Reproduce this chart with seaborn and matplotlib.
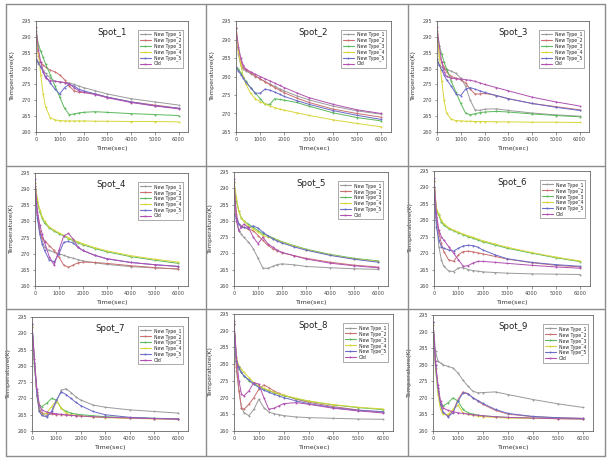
import matplotlib
matplotlib.use("Agg")
import matplotlib.pyplot as plt
import seaborn as sns
import pandas as pd
from matplotlib.lines import Line2D

sns.set_style("white")
plt.rcParams['font.family'] = ['DejaVu Sans']

time_sec = [0, 100, 200, 300, 400, 600, 800, 1000, 1200, 1400, 1600, 1800, 2000, 2500, 3000, 4000, 5000, 6000]
series_names = ["New Type_1", "New Type_2", "New Type_3", "New Type_4", "New Type_5", "Old"]
series_colors = ["#9a9a9a", "#c87070", "#5cb85c", "#d6d63a", "#6a6ac8", "#b050b0"]
spot_titles = ["Spot_1", "Spot_2", "Spot_3", "Spot_4", "Spot_5", "Spot_6", "Spot_7", "Spot_8", "Spot_9"]
x_ticks = [0, 1000, 2000, 3000, 4000, 5000, 6000]

spot1 = [
    [283, 281.5, 280.5, 279.5, 278.5, 277, 276, 275.8, 275.6, 275.5, 275, 274.5, 274, 273, 272, 270.5, 269.5, 268.5],
    [290, 284, 282, 281, 280.5, 279.5, 279, 278, 276.5, 274.5, 273, 272.5, 272.5, 272, 271, 269.5, 268.5, 267.5],
    [292, 287.5, 285.5, 283.5, 281.5, 278, 274.5, 271, 267.5, 265.5, 265.7, 266, 266.2, 266.4, 266.2, 265.8, 265.5, 265.2],
    [291, 285, 278, 272, 268, 264.5, 263.8, 263.6, 263.5, 263.5, 263.5, 263.5, 263.5, 263.4, 263.4, 263.3, 263.3, 263.2],
    [283, 282, 280.5, 279, 277.5, 275.5, 273.5, 272, 274, 275, 274.5, 273.5, 273, 272, 271, 269.5, 268.3, 267.5],
    [293, 286, 282, 279, 277, 276.2, 276, 275.8, 275.6, 275.2, 274, 273, 272.5, 271.8, 270.8, 269.3, 268.2, 267.3],
]
spot2 = [
    [293, 286, 283, 282, 281.5, 280.8, 280, 279.3, 278.6, 278, 277.3, 276.7, 276.1, 274.8, 273.7, 272, 270.7, 269.8],
    [293, 287.5, 284, 282.5, 281.8, 281, 280.2, 279.4, 278.6, 277.8, 277, 276.3, 275.6, 274.2, 273, 271.2, 270, 269],
    [282.5, 282, 281, 279.8, 278.8, 277, 275.5, 274, 272.5, 272.5, 274, 273.8, 273.6, 273, 272, 270.2, 268.9, 268],
    [292, 287, 283, 280, 278, 275.5, 274, 273.2, 272.6, 272, 271.6, 271.2, 270.9, 270.2, 269.5, 268.3, 267.3, 266.4],
    [282.5, 281.5, 280.5, 279.5, 278.5, 277, 275.5, 275.5, 276.6, 276.3, 275.8, 275.2, 274.6, 273.5, 272.5, 270.8, 269.5, 268.4],
    [293, 288, 285, 283, 282, 281.3, 280.6, 280, 279.4, 278.8, 278.2, 277.6, 277, 275.6, 274.3, 272.5, 271, 270],
]
spot3 = [
    [283, 281, 280.5, 280, 279.7, 279.2, 278.5, 277, 274.5, 270, 267, 266.8, 267.2, 267.3, 266.8, 266, 265.4, 265],
    [291, 284, 282, 280.5, 279, 277.5, 277, 276.5, 275.5, 273.5, 272, 272, 272.2, 271.5, 270.5, 269, 268, 267],
    [292, 287, 284.5, 282, 280, 276, 272.5, 269, 266, 265.4, 265.8, 266.1, 266.3, 266.5, 266.3, 265.7, 265.2, 264.8],
    [291, 284, 276, 270, 266, 264, 263.6, 263.5, 263.4, 263.4, 263.3, 263.3, 263.3, 263.2, 263.2, 263.1, 263.1, 263],
    [283, 281, 279.5, 278, 276.5, 274.5, 272, 271.5, 273.5, 274, 273.5, 273, 272.5, 271.5, 270.5, 269, 267.8, 266.8],
    [293, 287, 282, 279, 277.5, 277, 276.8, 276.7, 276.5, 276.3, 276, 275.5, 275, 274, 273, 271, 269.5, 268.2],
]
spot4 = [
    [291, 282, 277, 274, 272, 271, 270.5, 270, 269.5, 269, 268.6, 268.2, 267.8, 267.2, 266.7, 266, 265.6, 265.3],
    [291, 282, 277, 275, 274, 272.5, 271, 269, 266.5, 265.8, 266.5, 267.2, 267.4, 267.3, 267, 266.3, 265.7, 265.2],
    [292, 286, 283, 281, 279.5, 278, 277, 276.2, 275.5, 274.7, 274, 273.4, 272.8, 271.6, 270.6, 269.1, 268, 267],
    [292, 287, 283.5, 281.5, 280, 278.3, 277.3, 276.5, 275.7, 275, 274.3, 273.7, 273.1, 271.9, 270.9, 269.4, 268.3, 267.4],
    [290, 281, 276, 273, 271, 268, 267.5, 270, 273.5, 273.8, 273.3, 272, 271, 269.5, 268.4, 267.3, 266.6, 266.1],
    [293, 283, 279, 276, 273.5, 269, 266.5, 271, 275.5, 276.3, 274.5, 272, 271, 269.5, 268.5, 267.3, 266.6, 266],
]
spot5 = [
    [290, 281, 277, 276, 275, 273.5, 271.5, 268.5, 265.5, 265.4, 266, 266.6, 266.8, 266.5, 266, 265.6, 265.3, 265.1],
    [292, 282, 279, 278.5, 278, 277.5, 277, 275.5, 274, 272.5, 271.5, 270.8, 270.2, 269.3, 268.5, 267.3, 266.4, 265.8],
    [292, 286, 283, 281, 280, 279, 278, 277, 276, 275.5, 274.8, 274.2, 273.6, 272.4, 271.3, 269.7, 268.5, 267.7],
    [292, 287, 283, 281, 280, 278.5, 277.5, 276.5, 275.5, 275, 274.5, 274, 273.4, 272.2, 271.1, 269.5, 268.3, 267.5],
    [282, 281, 279, 278, 278, 277.8, 278.5, 277.8, 276.5, 275.5, 274.5, 273.8, 273.2, 272, 271, 269.4, 268.2, 267.3],
    [293, 280, 277, 278, 279, 278, 275, 273, 275, 273, 272, 271, 270.3, 269.3, 268.3, 267, 266.2, 265.6],
]
spot6 = [
    [290, 280, 272, 268, 266, 264.6, 264.4, 265.5, 265.6, 265, 264.7, 264.5, 264.3, 264.1, 263.9, 263.7, 263.6, 263.5],
    [292, 281, 276, 273, 270.5, 268, 267.5, 269.5, 270.5, 270.6, 270.4, 270.1, 269.8, 269, 268.2, 267.1, 266.3, 265.8],
    [292, 283, 281.5, 279.5, 278.5, 277.5, 276.8, 276.2, 275.6, 275, 274.5, 274, 273.5, 272.5, 271.5, 270, 268.6, 267.4],
    [292, 283.5, 282, 280, 279, 277.8, 277, 276.4, 275.8, 275.3, 274.8, 274.3, 273.8, 272.8, 271.8, 270.2, 268.8, 267.6],
    [290, 278, 274, 272, 271.5, 271, 270.6, 271.5, 272.2, 272.4, 272.3, 271.8, 271, 269.5, 268.3, 267.2, 266.5, 266],
    [293, 282, 277, 275, 274, 272, 270, 268, 266, 266.2, 267, 267.5, 267.5, 267.2, 266.9, 266.3, 265.8, 265.4],
]
spot7 = [
    [293, 282, 272, 267, 265.5, 264.6, 265.5, 269, 272.5, 273, 271.8, 270.5, 269.5, 268, 267.3, 266.5, 266, 265.5],
    [292, 281, 271, 266.5, 265.5, 265.3, 265.2, 265, 265, 264.9, 264.8, 264.7, 264.6, 264.4, 264.2, 264, 263.8, 263.7],
    [292, 280, 272, 268, 267.5, 268.5, 270, 269.5, 267, 266, 265.5, 265.2, 265, 264.7, 264.4, 264.1, 263.9, 263.7],
    [292, 281, 271, 266, 265, 265.5, 267.5, 269.3, 267, 265.5, 265, 264.8, 264.6, 264.3, 264.1, 263.9, 263.7, 263.6],
    [293, 281, 271, 266, 264.8, 264.3, 266, 269.5, 272, 271.2, 270, 268.8, 267.8, 266, 265, 264.2, 263.9, 263.7],
    [293, 282, 273, 268, 266.5, 265.8, 265.5, 265.3, 265.1, 265, 264.8, 264.7, 264.6, 264.4, 264.2, 264, 263.8, 263.6],
]
spot8 = [
    [292, 278, 272, 267, 265.5, 264.6, 266.5, 269.5, 267, 265.7, 265.2, 264.9, 264.6, 264.2, 264, 263.8, 263.6, 263.5],
    [292, 279, 272, 267, 266.5, 268, 270, 272.5, 273.8, 273, 272, 271.3, 270.7, 269.5, 268.6, 267.3, 266.3, 265.6],
    [292, 281, 278.5, 277.5, 276.5, 275, 274, 273.3, 272.6, 272, 271.5, 271, 270.6, 269.7, 268.9, 267.8, 267, 266.4],
    [292, 282, 279.5, 278.5, 277.5, 276, 274.5, 273.5, 272.8, 272.2, 271.6, 271.1, 270.7, 269.8, 269, 267.9, 267.1, 266.6],
    [292, 281, 279, 277.5, 276.5, 275.3, 274.1, 273, 272.2, 271.6, 271, 270.5, 270, 269, 268.2, 267, 266.2, 265.8],
    [293, 282, 275, 271, 270.5, 272, 274.5, 274, 270, 266.5, 266.8, 267.5, 268.2, 268.5, 268, 266.8, 266, 265.4],
]
spot9 = [
    [293, 284, 281, 280.5, 280, 279.5, 279, 277.5, 275.3, 273.5, 272, 271.5, 271.6, 271.8, 271, 269.5, 268.2, 267.1],
    [293, 280, 273, 268, 265.5, 264.5, 266, 269.5, 271.8, 271.3, 270, 269, 268, 266.2, 265.1, 264.3, 264, 263.8],
    [292, 279, 272, 268, 267.5, 268.5, 270, 269, 266.5, 265.5, 265.1, 264.8, 264.6, 264.3, 264.1, 263.9, 263.8, 263.7],
    [292, 279, 271, 266.5, 265, 265, 266.5, 267.8, 265.5, 265, 264.7, 264.5, 264.3, 264.1, 263.9, 263.8, 263.7, 263.6],
    [293, 280, 273, 268, 265.8, 264.3, 265.5, 269, 271.5, 271.2, 270, 269.2, 268.3, 266.5, 265.3, 264.4, 264, 263.8],
    [293, 281, 274, 269, 267, 266.2, 265.8, 265.5, 265.3, 265.1, 264.9, 264.7, 264.6, 264.3, 264.1, 263.9, 263.7, 263.6],
]
spot_data = [spot1, spot2, spot3, spot4, spot5, spot6, spot7, spot8, spot9]
y_ranges = [(260, 295), (265, 295), (260, 295), (260, 295), (260, 295),
            (260, 295), (260, 295), (260, 295), (260, 295)]

W, H = 615, 465
fig = plt.figure(figsize=(W / 100, H / 100), dpi=100)
fig.patch.set_facecolor("white")

# axes boxes in pixels: (left, top, right, bottom)
boxes = [
    (36, 21, 188, 132), (236, 21, 391, 132), (437, 21, 589, 132),
    (35, 173, 188, 286), (234, 172, 388, 286), (434, 171, 590, 286),
    (32, 317, 188, 431), (234, 314, 393, 431), (433, 315, 593, 431),
]

for i, (l, t, r, b) in enumerate(boxes):
    ax = fig.add_axes([l / W, 1 - b / H, (r - l) / W, (b - t) / H])
    ax.set_facecolor("white")
    for name, col, vals in zip(series_names, series_colors, spot_data[i]):
        df = pd.DataFrame({"Time": time_sec, "Temp": vals})
        sns.lineplot(data=df, x="Time", y="Temp", ax=ax, color=col, linewidth=0.7,
                     marker="o", markersize=1.4, markeredgewidth=0, legend=False)
    y0, y1 = y_ranges[i]
    ax.set_xlim(0, 6400)
    ax.set_ylim(y0, y1)
    ax.set_xticks(x_ticks)
    ax.set_yticks(list(range(y0, y1 + 1, 5)))
    ax.tick_params(axis="both", labelsize=3.6, length=1.8, width=0.4, pad=1.5,
                   colors="#444444", direction="out")
    ax.tick_params(bottom=True, left=True)
    for s in ax.spines.values():
        s.set_linewidth(0.6)
        s.set_color("#666666")
    ax.set_xlabel("Time(sec)", fontsize=4.6, color="#333333", labelpad=3)
    ax.set_ylabel("Temperature(K)", fontsize=4.6, color="#333333", labelpad=5)
    ax.text(0.5, 0.9, spot_titles[i], transform=ax.transAxes, ha="center", va="center",
            fontsize=6.2, color="#222222")
    handles = [Line2D([], [], color=c, linewidth=0.8, marker="o", markersize=1.4,
                      markeredgewidth=0) for c in series_colors]
    leg = ax.legend(handles, series_names, loc="upper right", fontsize=3.3, frameon=True,
                    fancybox=False, edgecolor="#888888", framealpha=1, handlelength=2.4,
                    labelspacing=0.05, borderpad=0.4, handletextpad=0.7,
                    bbox_to_anchor=(0.985, 0.94))
    leg.get_frame().set_linewidth(0.5)

# table-like cell borders
xs = [6, 206, 408, 605]
ys = [4, 166, 309, 456]
for x in xs:
    fig.add_artist(Line2D([x / W, x / W], [1 - ys[0] / H, 1 - ys[-1] / H],
                          transform=fig.transFigure, color="#8c8c8c", linewidth=1.0))
for y in ys:
    fig.add_artist(Line2D([xs[0] / W, xs[-1] / W], [1 - y / H, 1 - y / H],
                          transform=fig.transFigure, color="#8c8c8c", linewidth=1.0))

fig.savefig("out.png", dpi=100, facecolor="white")
